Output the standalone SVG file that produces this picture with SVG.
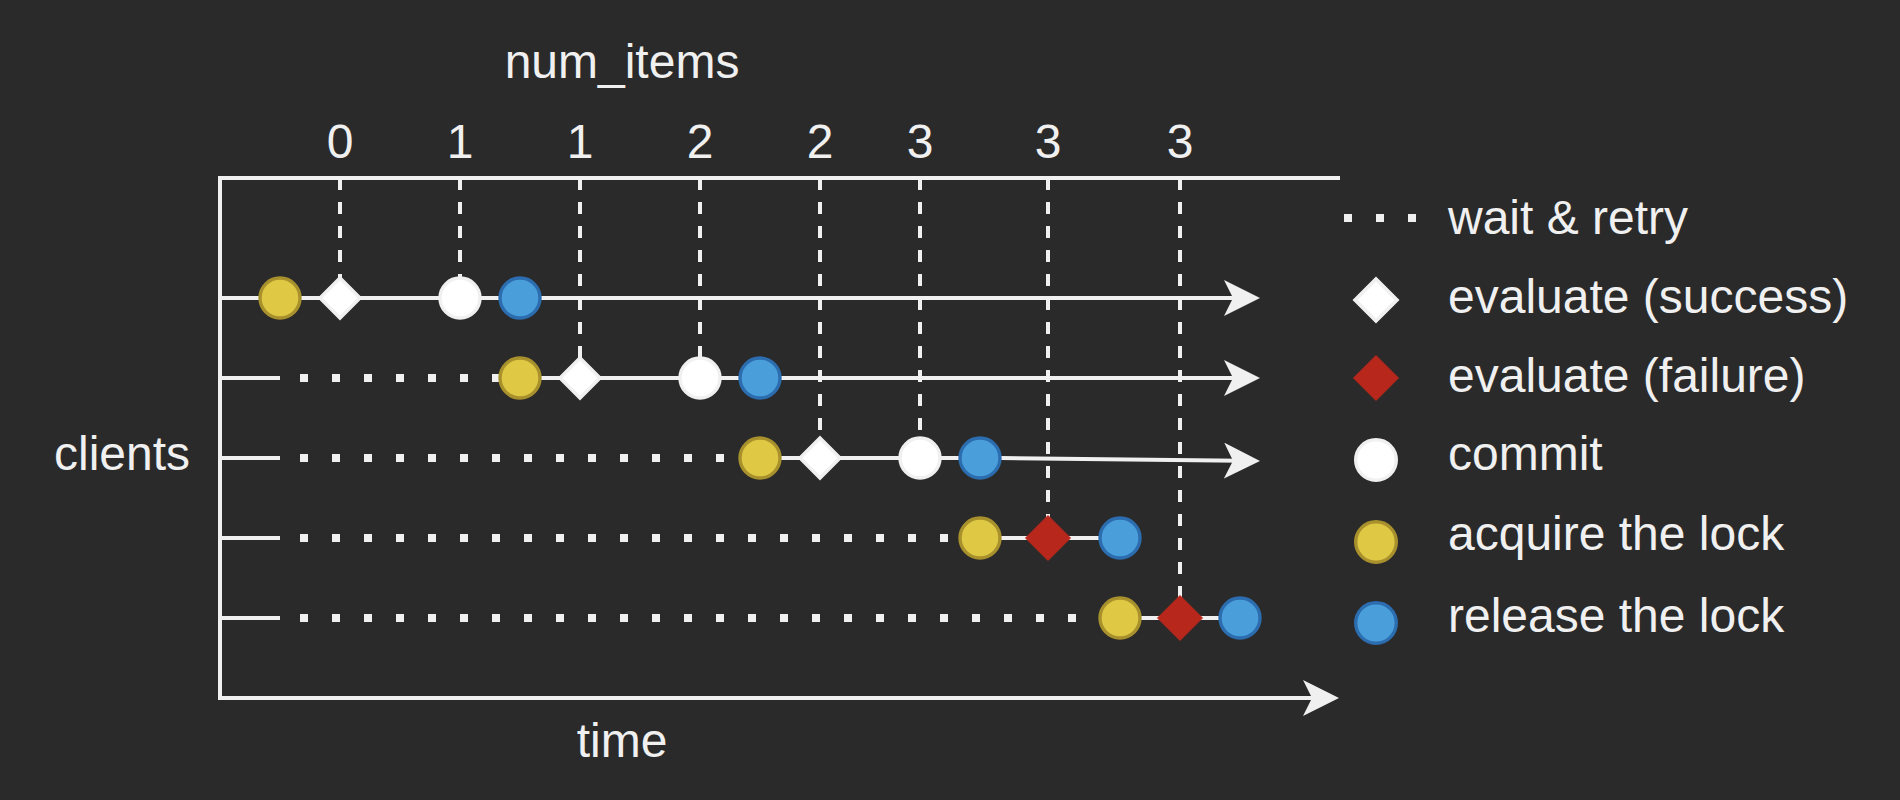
<svg xmlns="http://www.w3.org/2000/svg" width="1900" height="800" viewBox="0 0 1900 800">
<style>
  .ln { stroke:#f0f0f0; stroke-width:4; fill:none; }
  .dot { stroke:#f0f0f0; stroke-width:8; fill:none; stroke-dasharray:8 24; }
  .dash { stroke:#f0f0f0; stroke-width:4; fill:none; stroke-dasharray:12 12; }
  .yel { fill:#dec844; stroke:#a8912c; stroke-width:3.4; }
  .blu { fill:#4a9fdb; stroke:#2b6daf; stroke-width:3.4; }
  .wht { fill:#ffffff; stroke:#f0f0f0; stroke-width:3.4; }
  .red { fill:#b8271c; stroke:#b8271c; stroke-width:1; }
  .sq { fill:#f0f0f0; }
  text { font-family:"Liberation Sans", Arial, Helvetica, sans-serif; font-size:48px; fill:#f0f0f0; }
  .mid { text-anchor:middle; }
</style>
<defs>
  <marker id="arr" viewBox="0 0 36 36" refX="16" refY="18" markerWidth="36" markerHeight="36" markerUnits="userSpaceOnUse" orient="auto">
    <path d="M0,0 L36,18 L0,36 L9,18 Z" fill="#f0f0f0"/>
  </marker>
  <path id="dia" d="M0,-20 L20,0 L0,20 L-20,0 Z"/>
  <path id="diaR" d="M0,-22.5 L22.5,0 L0,22.5 L-22.5,0 Z"/>
</defs>
<rect x="0" y="0" width="1900" height="800" fill="#2a2a2a"/>

<g id="labels">
  <text class="mid" x="622" y="78">num_items</text>
  <text class="mid" x="340" y="158">0</text>
  <text class="mid" x="460" y="158">1</text>
  <text class="mid" x="580" y="158">1</text>
  <text class="mid" x="700" y="158">2</text>
  <text class="mid" x="820" y="158">2</text>
  <text class="mid" x="920" y="158">3</text>
  <text class="mid" x="1048" y="158">3</text>
  <text class="mid" x="1180" y="158">3</text>
  <text class="mid" x="122" y="470">clients</text>
  <text class="mid" x="622" y="757">time</text>
</g>

<g id="connectors">
  <!-- axes -->
  <path class="ln" d="M220,178 L1340,178"/>
  <path class="ln" d="M220,176 L220,698"/>
  <path class="ln" d="M218,698 L1319,698" marker-end="url(#arr)"/>
  <!-- vertical dashed guides -->
  <path class="dash" d="M340,178 L340,298"/>
  <path class="dash" d="M460,178 L460,298"/>
  <path class="dash" d="M580,178 L580,378"/>
  <path class="dash" d="M700,178 L700,378"/>
  <path class="dash" d="M820,178 L820,458"/>
  <path class="dash" d="M920,178 L920,458"/>
  <path class="dash" d="M1048,178 L1048,538"/>
  <path class="dash" d="M1180,178 L1180,618"/>
  <!-- row 1 -->
  <path class="ln" d="M220,298 L1240,298" marker-end="url(#arr)"/>
  <!-- row 2 -->
  <path class="ln" d="M220,378 L280,378"/>
  <path class="dot" d="M300,378 L500,378"/>
  <path class="ln" d="M520,378 L1240,378" marker-end="url(#arr)"/>
  <!-- row 3 -->
  <path class="ln" d="M220,458 L280,458"/>
  <path class="dot" d="M300,458 L740,458"/>
  <path class="ln" d="M760,458 L1001,458 L1240,460.8" marker-end="url(#arr)"/>
  <!-- row 4 -->
  <path class="ln" d="M220,538 L280,538"/>
  <path class="dot" d="M300,538 L960,538"/>
  <path class="ln" d="M980,538 L1120,538"/>
  <!-- row 5 -->
  <path class="ln" d="M220,618 L280,618"/>
  <path class="dot" d="M300,618 L1100,618"/>
  <path class="ln" d="M1120,618 L1240,618"/>
</g>

<g id="row1">
  <g id="r1-acquire"><circle class="yel" cx="280" cy="298" r="20"/></g>
  <g id="r1-evaluate"><use href="#dia" class="wht" x="340" y="298"/></g>
  <g id="r1-commit"><circle class="wht" cx="460" cy="298" r="20"/></g>
  <g id="r1-release"><circle class="blu" cx="520" cy="298" r="20"/></g>
</g>
<g id="row2">
  <g id="r2-acquire"><circle class="yel" cx="520" cy="378" r="20"/></g>
  <g id="r2-evaluate"><use href="#dia" class="wht" x="580" y="378"/></g>
  <g id="r2-commit"><circle class="wht" cx="700" cy="378" r="20"/></g>
  <g id="r2-release"><circle class="blu" cx="760" cy="378" r="20"/></g>
</g>
<g id="row3">
  <g id="r3-acquire"><circle class="yel" cx="760" cy="458" r="20"/></g>
  <g id="r3-evaluate"><use href="#dia" class="wht" x="820" y="458"/></g>
  <g id="r3-commit"><circle class="wht" cx="920" cy="458" r="20"/></g>
  <g id="r3-release"><circle class="blu" cx="980" cy="458" r="20"/></g>
</g>
<g id="row4">
  <g id="r4-acquire"><circle class="yel" cx="980" cy="538" r="20"/></g>
  <g id="r4-evaluate"><use href="#diaR" class="red" x="1048" y="538"/></g>
  <g id="r4-release"><circle class="blu" cx="1120" cy="538" r="20"/></g>
</g>
<g id="row5">
  <g id="r5-acquire"><circle class="yel" cx="1120" cy="618" r="20"/></g>
  <g id="r5-evaluate"><use href="#diaR" class="red" x="1180" y="618"/></g>
  <g id="r5-release"><circle class="blu" cx="1240" cy="618" r="20"/></g>
</g>

<g id="legend">
  <g id="lg-wait">
    <rect class="sq" x="1344" y="214" width="8" height="8"/>
    <rect class="sq" x="1376" y="214" width="8" height="8"/>
    <rect class="sq" x="1408" y="214" width="8" height="8"/>
    <text x="1448" y="234">wait &amp; retry</text>
  </g>
  <g id="lg-success">
    <use href="#dia" class="wht" x="1376" y="300" transform="translate(1376,300) scale(1.05) translate(-1376,-300)"/>
    <text x="1448" y="313">evaluate (success)</text>
  </g>
  <g id="lg-failure">
    <use href="#diaR" class="red" x="1376" y="378"/>
    <text x="1448" y="392">evaluate (failure)</text>
  </g>
  <g id="lg-commit">
    <circle class="wht" cx="1376" cy="460" r="20.3"/>
    <text x="1448" y="470">commit</text>
  </g>
  <g id="lg-acquire">
    <circle class="yel" cx="1376" cy="542" r="20.3"/>
    <text x="1448" y="550">acquire the lock</text>
  </g>
  <g id="lg-release">
    <circle class="blu" cx="1376" cy="623" r="20.3"/>
    <text x="1448" y="632">release the lock</text>
  </g>
</g>
</svg>
